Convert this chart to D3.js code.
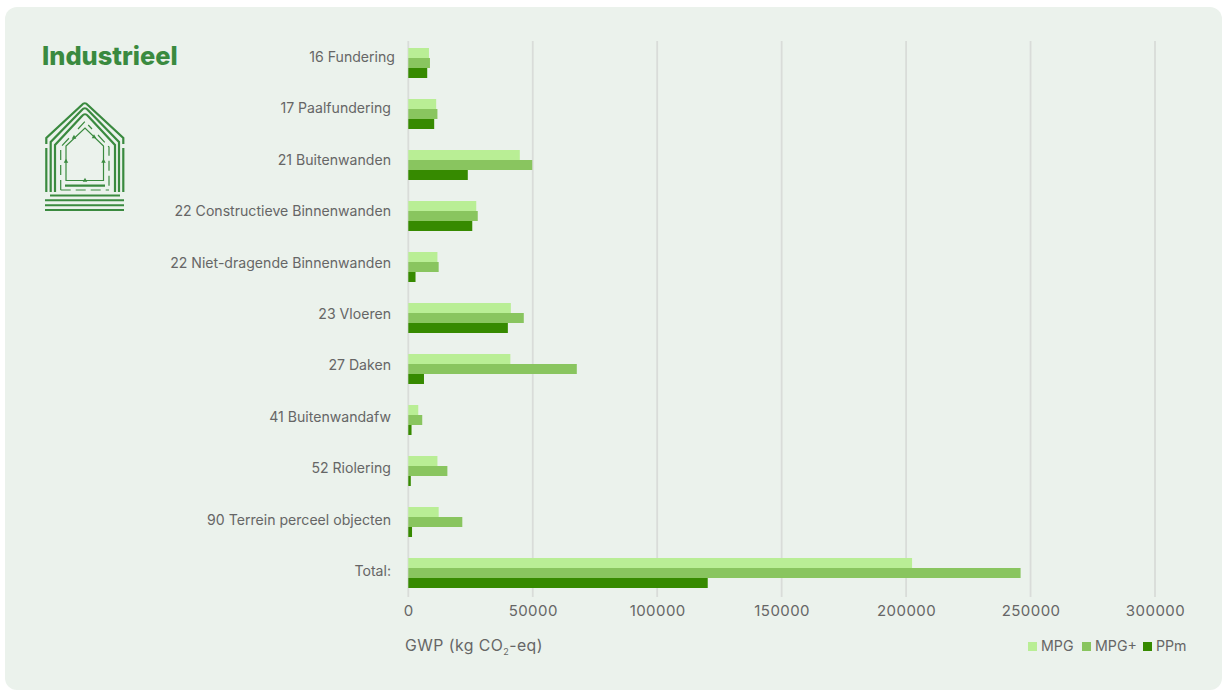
<!DOCTYPE html>
<html><head><meta charset="utf-8">
<script src="https://d3js.org/d3.v7.min.js"></script>
<style>
html,body{margin:0;padding:0;background:#fff}
svg{display:block}
text{font-family:"Inter","Lato",sans-serif;fill:#666}
</style></head><body><svg id="c" width="1227" height="690"></svg>
<script>
const categories=["16 Fundering","17 Paalfundering","21 Buitenwanden","22 Constructieve Binnenwanden","22 Niet-dragende Binnenwanden","23 Vloeren","27 Daken","41 Buitenwandafw","52 Riolering","90 Terrein perceel objecten","Total:"];
const seriesNames=["MPG","MPG+","PPm"];
const mpg=[8300,11200,44800,27300,11700,41200,41000,4000,11700,12200,202400];
const mpgPlus=[8700,11700,49800,27900,12200,46400,67700,5600,15700,21700,246000];
const ppm=[7600,10400,23900,25700,2900,40000,6300,1300,1000,1500,120300];
const tickValues=[0,50000,100000,150000,200000,250000,300000];
const colors=["#b9ee95","#89c55f","#368a00"];
const values=[mpg,mpgPlus,ppm];
const FONT='"Inter","Lato",sans-serif';

const svg=d3.select("#c");
svg.append("rect").attr("x",5).attr("y",7).attr("width",1217).attr("height",683).attr("rx",12).attr("fill","#ebf2ec");

const x=d3.scaleLinear().domain([0,300000]).range([408.3,1155]);
const y=d3.scaleBand().domain(categories).range([37.5,598.5]);
const labelY=d3.scalePoint().domain(categories).range([57,571]);
const sub=d3.scaleBand().domain(seriesNames).range([0,30]);
const offset=(y.bandwidth()-30)/2;

const axisX=d3.axisBottom(x).tickValues(tickValues).tickFormat(d3.format("d")).tickSize(0).tickPadding(0);
const gx=svg.append("g").attr("transform","translate(0,611)").call(axisX);
gx.select(".domain").remove();
gx.selectAll("text").attr("font-size",15).attr("letter-spacing",0.45).attr("dy","0.35em").attr("y",0).attr("fill","#666").style("font-family",FONT);

svg.append("g").selectAll("line").data(tickValues).join("line")
 .attr("x1",d=>x(d)).attr("x2",d=>x(d)).attr("y1",41).attr("y2",597)
 .attr("stroke","#d9dcd9").attr("stroke-width",1.8);

const rows=svg.append("g").selectAll("g").data(categories).join("g")
 .attr("transform",d=>`translate(0,${y(d)+offset})`);
seriesNames.forEach((s,si)=>{
  rows.append("rect").attr("x",x(0)).attr("y",sub(s))
   .attr("width",(d,i)=>x(values[si][i])-x(0)).attr("height",sub.bandwidth()).attr("fill",colors[si]);
});
const axisY=d3.axisLeft(labelY).tickSize(0).tickPadding(0);
const gy=svg.append("g").attr("transform","translate(391,0)").call(axisY);
gy.select(".domain").remove();
gy.selectAll("text").attr("font-size",14.1).attr("fill","#666").style("font-family",FONT);
gy.selectAll(".tick").filter((d,i)=>i===0).select("text").attr("x",4);

svg.append("text").attr("x",42).attr("y",64.5).attr("font-size",25.4).attr("font-weight",800).style("fill","#3a8a3f").text("Industrieel");

const t=svg.append("text").attr("x",405).attr("y",651).attr("font-size",15.8).attr("letter-spacing",0.45);
t.append("tspan").text("GWP (kg CO");
t.append("tspan").attr("font-size",9).attr("dy",4).text("2");
t.append("tspan").attr("dy",-4).text("-eq)");

const lx=[1028,1082,1143];
seriesNames.forEach((s,i)=>{
  svg.append("rect").attr("x",lx[i]).attr("y",642).attr("width",9).attr("height",9).attr("fill",colors[i]);
  svg.append("text").attr("x",lx[i]+13).attr("y",651).attr("font-size",14.2).text(s);
});

// logo
const logo=svg.append("g").attr("fill","none").attr("stroke","#3a8a3f");
const stroke=(d,w,dash)=>logo.append("path").attr("d",d).attr("stroke-width",w).attr("stroke-dasharray",dash||null);
const roof=(l,r,sh,ap)=>{const c=(l+r)/2;return `L${c-3},${ap+2}Q${c},${ap-1.5} ${c+3},${ap+2}L${r},${sh}`;};
stroke(`M46.3,144V138${roof(46.3,123.3,138,103)}V144`,2.2);
stroke("M46.3,148V192M123.3,148V192",2.2);
stroke(`M50.7,192V142${roof(50.7,119,142,108)}V192`,2.2);
stroke(`M55,192V145${roof(55,115,145,114)}V192`,2.2);
stroke("M60.7,190V147L72,135M78,129L85,121.5L92,129M98,135L109,147V190M60.7,190H109",1.2,"10 5");
stroke("M66,180.5V146L85,128L103.5,146V180.5Z",1.2);
stroke("M65,185.7H105",2.2);
[195.5,200.3,205.3,210].forEach((v,i)=>stroke(i===0?`M50,${v}H120`:`M45,${v}H124`,2));
logo.append("g").attr("fill","#3a8a3f").attr("stroke","none").selectAll("path")
 .data([[74,137.5],[94,137],[66,161.5],[103.5,161.5],[85,180.5]]).join("path")
 .attr("d",d3.symbol().type(d3.symbolTriangle).size(9)).attr("transform",d=>`translate(${d[0]},${d[1]})`);
</script></body></html>
